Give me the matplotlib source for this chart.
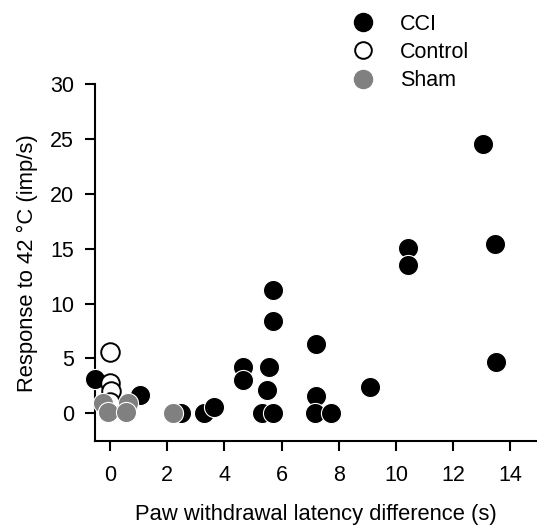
import matplotlib
matplotlib.use("Agg")
import matplotlib.pyplot as plt
from matplotlib.lines import Line2D

plt.rcParams.update({
    "font.family": ["Liberation Sans", "DejaVu Sans"],
    "font.size": 15,
})

# CCI group (black)
cci_x = [-0.52, 1.05, 2.5, 3.3, 3.64, 4.66, 4.66, 5.3, 5.48, 5.56, 5.69,
         5.69, 5.69, 7.2, 7.2, 7.17, 7.73, 9.1, 10.41, 10.41, 13.05,
         13.46, 13.5]
cci_y = [3.15, 1.7, 0.0, 0.0, 0.6, 4.2, 3.0, 0.0, 2.1, 4.2, 0.0,
         8.4, 11.2, 6.3, 1.6, 0.0, 0.0, 2.4, 15.1, 13.5, 24.5,
         15.4, 4.66]

# Control group (white)
ctrl_x = [0.0, 0.02, 0.05, 0.0]
ctrl_y = [5.6, 2.75, 2.0, 1.0]

# Sham group (grey)
sham_x = [-0.23, 0.64, -0.06, 0.55, 2.21]
sham_y = [0.9, 0.9, 0.1, 0.1, 0.0]

fig = plt.figure(figsize=(5.37, 5.29), dpi=100)
ax = fig.add_axes([0.177, 0.166, 0.823, 0.675])

ms = 210
ax.scatter(cci_x, cci_y, s=ms, c="black", edgecolors="white",
           linewidths=0.8, clip_on=False, zorder=3)
ax.scatter(ctrl_x, ctrl_y, s=ms * 0.85, c="white", edgecolors="black",
           linewidths=1.4, clip_on=False, zorder=4)
ax.scatter(sham_x, sham_y, s=ms, c="#808080", edgecolors="white",
           linewidths=0.8, clip_on=False, zorder=5)

ax.set_xlim(-0.52, 14.93)
ax.set_ylim(-2.55, 30)
ax.set_xticks(range(0, 16, 2))
ax.set_yticks(range(0, 31, 5))
ax.spines["top"].set_visible(False)
ax.spines["right"].set_visible(False)
ax.spines["left"].set_linewidth(1.5)
ax.spines["bottom"].set_linewidth(1.5)
ax.tick_params(direction="out", length=7, width=1.5, labelsize=15.5)
ax.tick_params(axis="x", pad=10)
ax.tick_params(axis="y", pad=8)

ax.set_xlabel("Paw withdrawal latency difference (s)", fontsize=15.8,
              labelpad=13)
ax.set_ylabel("Response to 42 \u00b0C (imp/s)", fontsize=15.8, labelpad=9)

handles = [
    Line2D([], [], ls="none", marker="o", ms=13, mfc="black", mec="black"),
    Line2D([], [], ls="none", marker="o", ms=12, mfc="white", mec="black",
           mew=1.4),
    Line2D([], [], ls="none", marker="o", ms=13, mfc="#808080",
           mec="#808080"),
]
fig.legend(handles, ["CCI", "Control", "Sham"], loc="upper left",
           bbox_to_anchor=(0.63, 0.99), frameon=False, fontsize=15.5,
           handletextpad=0.95, labelspacing=0.33, borderaxespad=0,
           handlelength=1.5)

fig.savefig("out.png", dpi=100)
